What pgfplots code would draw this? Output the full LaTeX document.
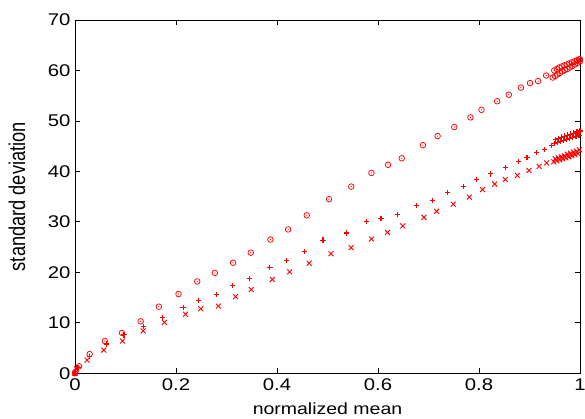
\documentclass[border=0pt]{standalone}
\usepackage{pgfplots}
\pgfplotsset{compat=1.18}
\usepackage{fontspec}
\usepackage{graphicx}
\setmainfont{Liberation Sans}[FakeStretch=1.2]
\newfontfamily\ylabfont{Liberation Sans}
\pgfdeclareplotmark{odot}{%
  \pgfpathcircle{\pgfpointorigin}{\pgfplotmarksize}\pgfusepathqstroke
  \pgfpathcircle{\pgfpointorigin}{0.6bp}\pgfusepathqfill}
\definecolor{mred}{RGB}{255,0,0}
\begin{document}
\begin{tikzpicture}
\useasboundingbox (-75bp,-45.7bp) rectangle (510bp,373.3bp);
\begin{axis}[
  at={(0,0)}, anchor=south west,
  scale only axis, width=505bp, height=353.3bp,
  xmin=0, xmax=1, ymin=0, ymax=70,
  xtick={0,0.2,0.4,0.6,0.8,1},
  ytick={0,10,20,30,40,50,60,70},
  tick align=inside, major tick length=5.5bp,
  axis line style={line width=0.9bp},
  every tick/.style={black, line width=0.8bp},
  ticklabel style={font=\fontsize{17}{20}\selectfont},
  /pgf/number format/assume math mode=true,
  xticklabel style={yshift=-2bp},
  yticklabel style={xshift=-1bp},
  xlabel={normalized mean},
  ylabel={\ylabfont\fontsize{18.3}{21}\selectfont\scalebox{1}[1.25]{standard deviation}},
  every axis x label/.style={at={(axis description cs:0.5,-0.1152)}, anchor=base,
    font=\fontsize{16.3}{19}\selectfont},
  every axis y label/.style={at={(axis description cs:-0.099,0.5)}, rotate=90, anchor=base},
  clip=false,
]
% circles
\addplot[only marks, mark=odot, mark size=2.8bp, mred, mark options={line width=0.75bp}] coordinates {
(0,0) (0.001,0.3) (0.008,1.4) (0.029,3.8) (0.059,6.4) (0.093,8.0) (0.130,10.3) (0.166,13.2)
(0.205,15.7) (0.242,18.2) (0.277,19.9) (0.313,21.9) (0.348,23.9) (0.387,26.5)
(0.422,28.5) (0.459,31.3) (0.503,34.5) (0.547,37.0) (0.587,39.7) (0.620,41.3)
(0.647,42.6) (0.689,45.2) (0.718,47.0) (0.751,48.8) (0.783,50.7) (0.805,52.2)
(0.836,53.9) (0.859,55.2) (0.883,56.6) (0.901,57.5) (0.917,57.9) (0.933,59.0)
(0.946,58.6) (0.949,60.0)
(0.951,58.9) (0.955,59.2) (0.960,59.5) (0.965,59.8) (0.970,60.1) (0.975,60.3)
(0.980,60.6) (0.985,60.9) (0.990,61.2) (0.995,61.5) (1.0,61.8)
(0.954,60.3) (0.959,60.6) (0.964,60.8) (0.969,61.0) (0.974,61.2) (0.979,61.4)
(0.984,61.6) (0.989,61.8) (0.994,62.0) (0.998,62.2) (1.0,62.2)
};
% plus
\addplot[only marks, mark=+, mark size=2.6bp, mred, mark options={line width=1.1bp}] coordinates {
(0,0) (0.006,1.1) (0.028,3.4) (0.062,5.8) (0.097,7.6) (0.136,9.2) (0.174,11.0)
(0.214,13.0) (0.244,14.5) (0.280,15.6) (0.312,17.4) (0.345,18.8) (0.386,21.0)
(0.419,22.3) (0.455,24.1) (0.491,26.4) (0.537,27.8) (0.578,30.0) (0.606,30.6)
(0.639,31.4) (0.677,33.2) (0.708,34.3) (0.738,35.9) (0.769,37.0) (0.795,38.4)
(0.823,39.5) (0.852,40.8) (0.879,41.9) (0.895,42.7) (0.914,43.8) (0.930,44.3)
(0.944,45.1)
(0.952,46.3) (0.958,46.6) (0.964,46.8) (0.970,47.0) (0.976,47.2) (0.982,47.4)
(0.988,47.6) (0.994,47.8) (1.0,48.0)
(0.950,45.5) (0.956,45.7) (0.962,45.9) (0.968,46.1) (0.974,46.3) (0.980,46.5)
(0.986,46.7) (0.992,46.9) (0.998,47.1)
};
% x
\addplot[only marks, mark=x, mark size=3.5bp, mred, mark options={line width=0.9bp}] coordinates {
(0,0) (0.003,0.9) (0.024,2.6) (0.057,4.6) (0.094,6.4) (0.135,8.4) (0.177,10.1)
(0.219,11.7) (0.249,12.8) (0.284,13.3) (0.318,15.2) (0.349,16.6) (0.391,18.6)
(0.425,20.1) (0.464,21.8) (0.507,23.7) (0.547,24.9) (0.587,26.6) (0.619,27.9)
(0.649,29.2) (0.691,30.9) (0.716,32.1) (0.749,33.5) (0.781,34.9) (0.807,36.4)
(0.831,37.5) (0.852,38.4) (0.876,39.2) (0.899,40.2) (0.919,41.0) (0.934,41.7)
(0.951,42.5) (0.957,42.7) (0.963,42.9) (0.969,43.1) (0.975,43.4) (0.981,43.6)
(0.987,43.8) (0.993,44.0) (0.999,44.3)
(0.948,41.9) (0.954,42.1) (0.960,42.3) (0.966,42.5) (0.972,42.7) (0.978,42.9)
(0.984,43.1) (0.990,43.3) (0.996,43.5)
};
\end{axis}
\end{tikzpicture}
\end{document}
